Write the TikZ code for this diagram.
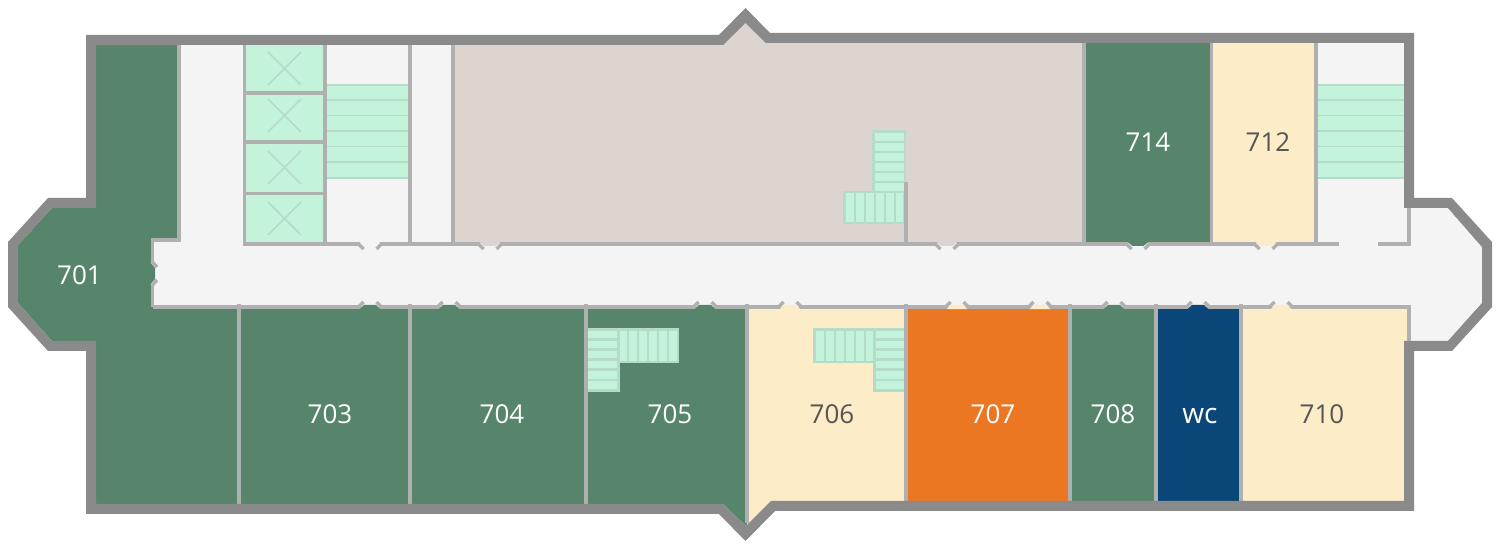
\documentclass[tikz,border=0pt]{standalone}
\usepackage{fontspec}
\setmainfont{Open Sans}
\definecolor{wallout}{HTML}{8A8A8A}
\definecolor{wallin}{HTML}{B0B0B0}
\definecolor{green}{HTML}{56856B}
\definecolor{cream}{HTML}{FDECC8}
\definecolor{orange}{HTML}{EC7723}
\definecolor{blue}{HTML}{0A4678}
\definecolor{beige}{HTML}{DCD4CF}
\definecolor{corr}{HTML}{F4F4F4}
\definecolor{mint}{HTML}{C4F3DC}
\definecolor{mintline}{HTML}{B4DCC8}
\definecolor{dark}{HTML}{555555}
\tikzset{
  x=0.5pt,y=-0.5pt,
  iw/.style={draw=wallin,line width=1.85pt},
  fl/.style={draw=wallin,line width=1.7pt},
  sl/.style={draw=mintline,line width=1.1pt},
  xl/.style={draw=mintline,line width=0.75pt},
  lab/.style={font=\fontsize{13pt}{15pt}\selectfont,text=white,inner sep=0pt},
  labd/.style={lab,text=dark},
}
\newcommand{\doorB}[2]{%
  \fill[corr] (#1-12,304) rectangle (#1+12,307.5);
  \fill[#2] (#1-10.5,309.2) -- (#1-6,305) -- (#1+6,305) -- (#1+10.5,309.2) -- cycle;
  \draw[fl,line join=round] (#1-14,307) -- (#1-11.5,307) -- (#1-6.5,302);
  \draw[fl,line join=round] (#1+14,307) -- (#1+11.5,307) -- (#1+6.5,302);
}
\newcommand{\doorT}[2]{%
  \fill[corr] (#1-12,243.5) rectangle (#1+12,247);
  \fill[#2] (#1-10.5,241.8) -- (#1-5.5,246) -- (#1+5.5,246) -- (#1+10.5,241.8) -- cycle;
  \draw[fl,line join=round] (#1-14,244) -- (#1-11.5,244) -- (#1-6.5,249);
  \draw[fl,line join=round] (#1+14,244) -- (#1+11.5,244) -- (#1+6.5,249);
}
\begin{document}
\begin{tikzpicture}
\useasboundingbox (0,0) rectangle (1500,550);
\def\innerpoly{(96,45) -- (723,45) -- (745.5,23) -- (766,43) -- (1404,43) -- (1404,208) -- (1448,208) -- (1482,247) -- (1482,303) -- (1448,341) -- (1404,341) -- (1404,501) -- (771,501) -- (746,526) -- (723,504) -- (96,504) -- (96,341) -- (52,341) -- (18,303) -- (18,245) -- (52,208) -- (96,208) -- cycle}
\def\outerpoly{(86,35) -- (719,35) -- (745.5,8) -- (770,33) -- (1414,33) -- (1414,198) -- (1452,198) -- (1492,242) -- (1492,307) -- (1452,351) -- (1414,351) -- (1414,511) -- (775,511) -- (745.5,541) -- (719,514) -- (86,514) -- (86,351) -- (48,351) -- (8,307) -- (8,242) -- (48,198) -- (86,198) -- cycle}
% floor
\fill[green] \innerpoly;
\begin{scope}
\clip \innerpoly;
\fill[corr] (179,30) rectangle (455,244);
\fill[corr] (152,240) rectangle (1500,307);
\fill[corr] (1316,30) rectangle (1409,244);
\fill[corr] (1409,200) rectangle (1500,350);
\fill[beige] (453,0) rectangle (1084,243);
\fill[green] (1084,30) rectangle (1212,243);
\fill[cream] (1212,30) rectangle (1316,243);
\fill[cream] (747,307) rectangle (906,530);
\fill[orange] (906,307) rectangle (1070,510);
\fill[green] (1070,307) rectangle (1156,510);
\fill[blue] (1156,307) rectangle (1241,510);
\fill[cream] (1241,307) rectangle (1409,510);
\end{scope}
% lift shafts
\fill[mint] (245,45) rectangle (325,243);
\foreach \a/\b in {52/85,99/132,151/184,202/235}{
  \draw[xl] (268,\a) -- (301,\b);
  \draw[xl] (301,\a) -- (268,\b);
}
% main stairs
\foreach \xa/\xb in {326/408,1317/1404}{
  \fill[mint] (\xa,85) rectangle (\xb,178);
  \foreach \y in {85,100,115.7,131,146.7,162,178}{
    \draw[draw=mintline,line width=0.8pt] (\xa,\y) -- (\xb,\y);
  }
}
% beige stair
\fill[mint] (873.5,131.5) rectangle (905,192);
\fill[mint] (844.5,192) rectangle (904.5,223);
\draw[sl] (873.5,192) -- (873.5,131.5) -- (905,131.5) -- (905,192);
\foreach \y in {141.7,152,162,172,182}{\draw[sl] (873.5,\y) -- (905,\y);}
\draw[sl] (844.5,192) rectangle (904.5,223);
\foreach \x in {854.7,864.7,875,885,895}{\draw[sl] (\x,192) -- (\x,223);}
% 705 stair
\fill[mint] (587,329.5) rectangle (618.5,390.5);
\fill[mint] (618.5,329.5) rectangle (678,362);
\draw[sl] (587,390.5) -- (618.5,390.5) -- (618.5,329.5);
\draw[sl] (587,329.5) -- (678,329.5) -- (678,362) -- (618.5,362);
\foreach \y in {339.5,349.5,359.5,369.5,380}{\draw[sl] (587,\y) -- (618.5,\y);}
\foreach \x in {628.3,638.3,648.3,658.3,668.3}{\draw[sl] (\x,329.5) -- (\x,362);}
% 706 stair
\fill[mint] (874.5,329.5) rectangle (904.5,390.5);
\fill[mint] (814.5,329.5) rectangle (874.5,362);
\draw[sl] (904.5,390.5) -- (874.5,390.5) -- (874.5,329.5);
\draw[sl] (904.5,329.5) -- (814.5,329.5) -- (814.5,362) -- (874.5,362);
\foreach \y in {339.5,349.5,359.5,369.5,380}{\draw[sl] (874.5,\y) -- (904.5,\y);}
\foreach \x in {825,835,845,855,865}{\draw[sl] (\x,329.5) -- (\x,362);}
% inner walls
\draw[iw] (179,45) -- (179,240.2) -- (152.5,240.2) -- (152.5,307);
\draw[iw] (152.5,307) -- (1411,307);
\draw[iw] (244.5,45) -- (244.5,244) ;
\draw[iw] (325,45) -- (325,244);
\foreach \y in {92.7,142,193.5}{\draw[iw] (245,\y) -- (325,\y);}
\draw[iw] (410,45) -- (410,244);
\draw[iw] (453,45) -- (453,244);
\draw[iw] (243,244) -- (1339,244);
\draw[iw] (1378,244) -- (1411,244);
\draw[iw] (1084,43) -- (1084,244);
\draw[iw] (1211.5,43) -- (1211.5,244);
\draw[iw] (1316,43) -- (1316,244);
\draw[iw] (1409,208) -- (1409,244);
\draw[iw] (1409,307) -- (1409,341);
\draw[iw] (905.7,182) -- (905.7,244);
\foreach \x in {239,410,586}{\draw[iw] (\x,304.5) -- (\x,504);}
\draw[iw] (747.3,304.5) -- (747.3,523);
\draw[iw] (906,304.5) -- (906,501);
\draw[iw] (1070,304.5) -- (1070,501);
\draw[iw] (1156,304.5) -- (1156,501);
\draw[iw] (1241,304.5) -- (1241,501);
% doors
\doorB{370}{green}\doorB{449}{green}\doorB{705}{green}\doorB{790}{cream}
\doorB{957}{cream}\doorB{1040}{cream}\doorB{1114}{green}\doorB{1198}{blue}\doorB{1281}{cream}
\doorT{370}{corr}\doorT{490}{beige}\doorT{947}{beige}\doorT{1138}{green}\doorT{1266}{cream}
% door of 701
\fill[corr] (151,261) rectangle (154.5,286);
\fill[green] (150.7,263) -- (155,268) -- (155,279) -- (150.7,284) -- cycle;
\draw[fl] (152.5,260) -- (152.5,262) -- (157,267);
\draw[fl] (152.5,287) -- (152.5,285) -- (157,280);
% outer wall
\fill[wallout,even odd rule] \outerpoly \innerpoly;
% labels
\node[lab] (r701) at (79.5,275) {701};
\node[lab] (r703) at (330,414) {703};
\node[lab] (r704) at (502,414) {704};
\node[lab] (r705) at (670,414) {705};
\node[labd] (r706) at (832,414) {706};
\node[lab] (r707) at (993,414) {707};
\node[lab] (r708) at (1113,414) {708};
\node[lab,font=\fontsize{14pt}{16pt}\selectfont] (rwc) at (1200,416) {wc};
\node[labd] (r710) at (1322,414) {710};
\node[lab] (r714) at (1148,142) {714};
\node[labd] (r712) at (1268,142) {712};
\end{tikzpicture}
\end{document}
